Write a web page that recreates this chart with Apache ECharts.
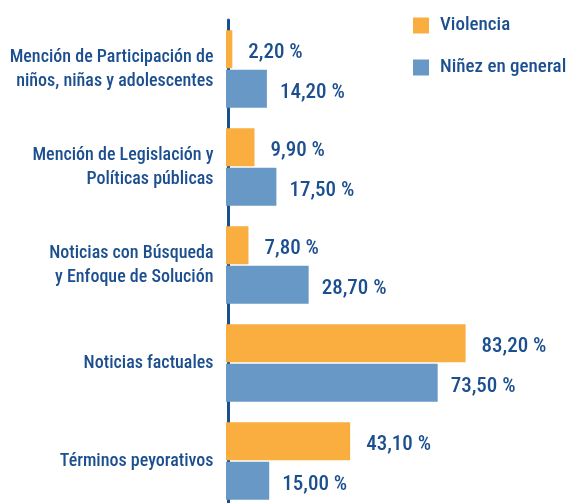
<!DOCTYPE html>
<html>
<head>
<meta charset="utf-8">
<script src="https://cdn.jsdelivr.net/npm/echarts@6/dist/echarts.min.js"></script>
<style>
html,body{margin:0;padding:0;background:#fff;}
#chart{width:569px;height:503px;}
</style>
</head>
<body>
<div id="chart"></div>
<script>
const categories = [
  'Mención de Participación de\nniños, niñas y adolescentes',
  'Mención de Legislación y\nPolíticas públicas',
  'Noticias con Búsqueda\ny Enfoque de Solución',
  'Noticias factuales',
  'Términos peyorativos'
];
const seriesNames = ['Violencia', 'Niñez en general'];
const violencia = [2.2, 9.9, 7.8, 83.2, 43.1];
const ninez = [14.2, 17.5, 28.7, 73.5, 15.0];

const FONT = '"Roboto Condensed", "DejaVu Sans Condensed", sans-serif';
const TXT = '#1c4f8f';
const fmt = p => p.value.toFixed(2).replace('.', ',') + ' %';

const chart = echarts.init(document.getElementById('chart'));
chart.setOption({
  animation: false,
  textStyle: { fontFamily: FONT },
  legend: {
    orient: 'vertical',
    left: 408, top: 11,
    itemWidth: 16, itemHeight: 16, itemGap: 23,
    icon: 'rect',
    textStyle: { color: TXT, fontSize: 19, fontWeight: 500, fontFamily: FONT, padding: [0, 0, 0, 6] },
    data: seriesNames
  },
  grid: { left: 226, top: 20, width: 288, height: 490, outerBoundsMode: 'none', containLabel: false },
  xAxis: {
    type: 'value', min: 0, max: 100, show: false
  },
  yAxis: {
    type: 'category', inverse: true, data: categories, offset: -2.5,
    axisLine: { show: true, lineStyle: { color: '#1a4f8e', width: 3 } },
    axisTick: { show: false },
    axisLabel: { color: TXT, fontSize: 18, fontWeight: 500, lineHeight: 24, margin: 15, align: 'right', fontFamily: FONT, offset: [0, 1] }
  },
  series: [
    {
      name: seriesNames[0], type: 'bar', data: violencia,
      barWidth: 38, barGap: '4%',
      itemStyle: { color: '#f9ae3f' },
      label: { show: true, position: 'right', distance: 16, formatter: fmt, color: TXT, fontSize: 21, fontWeight: 500, fontFamily: FONT, offset: [0, 4] }
    },
    {
      name: seriesNames[1], type: 'bar', data: ninez,
      barWidth: 38,
      itemStyle: { color: '#6898c5' },
      label: { show: true, position: 'right', distance: 13, formatter: fmt, color: TXT, fontSize: 21, fontWeight: 500, fontFamily: FONT, offset: [0, 4] }
    }
  ]
});
</script>
</body>
</html>
